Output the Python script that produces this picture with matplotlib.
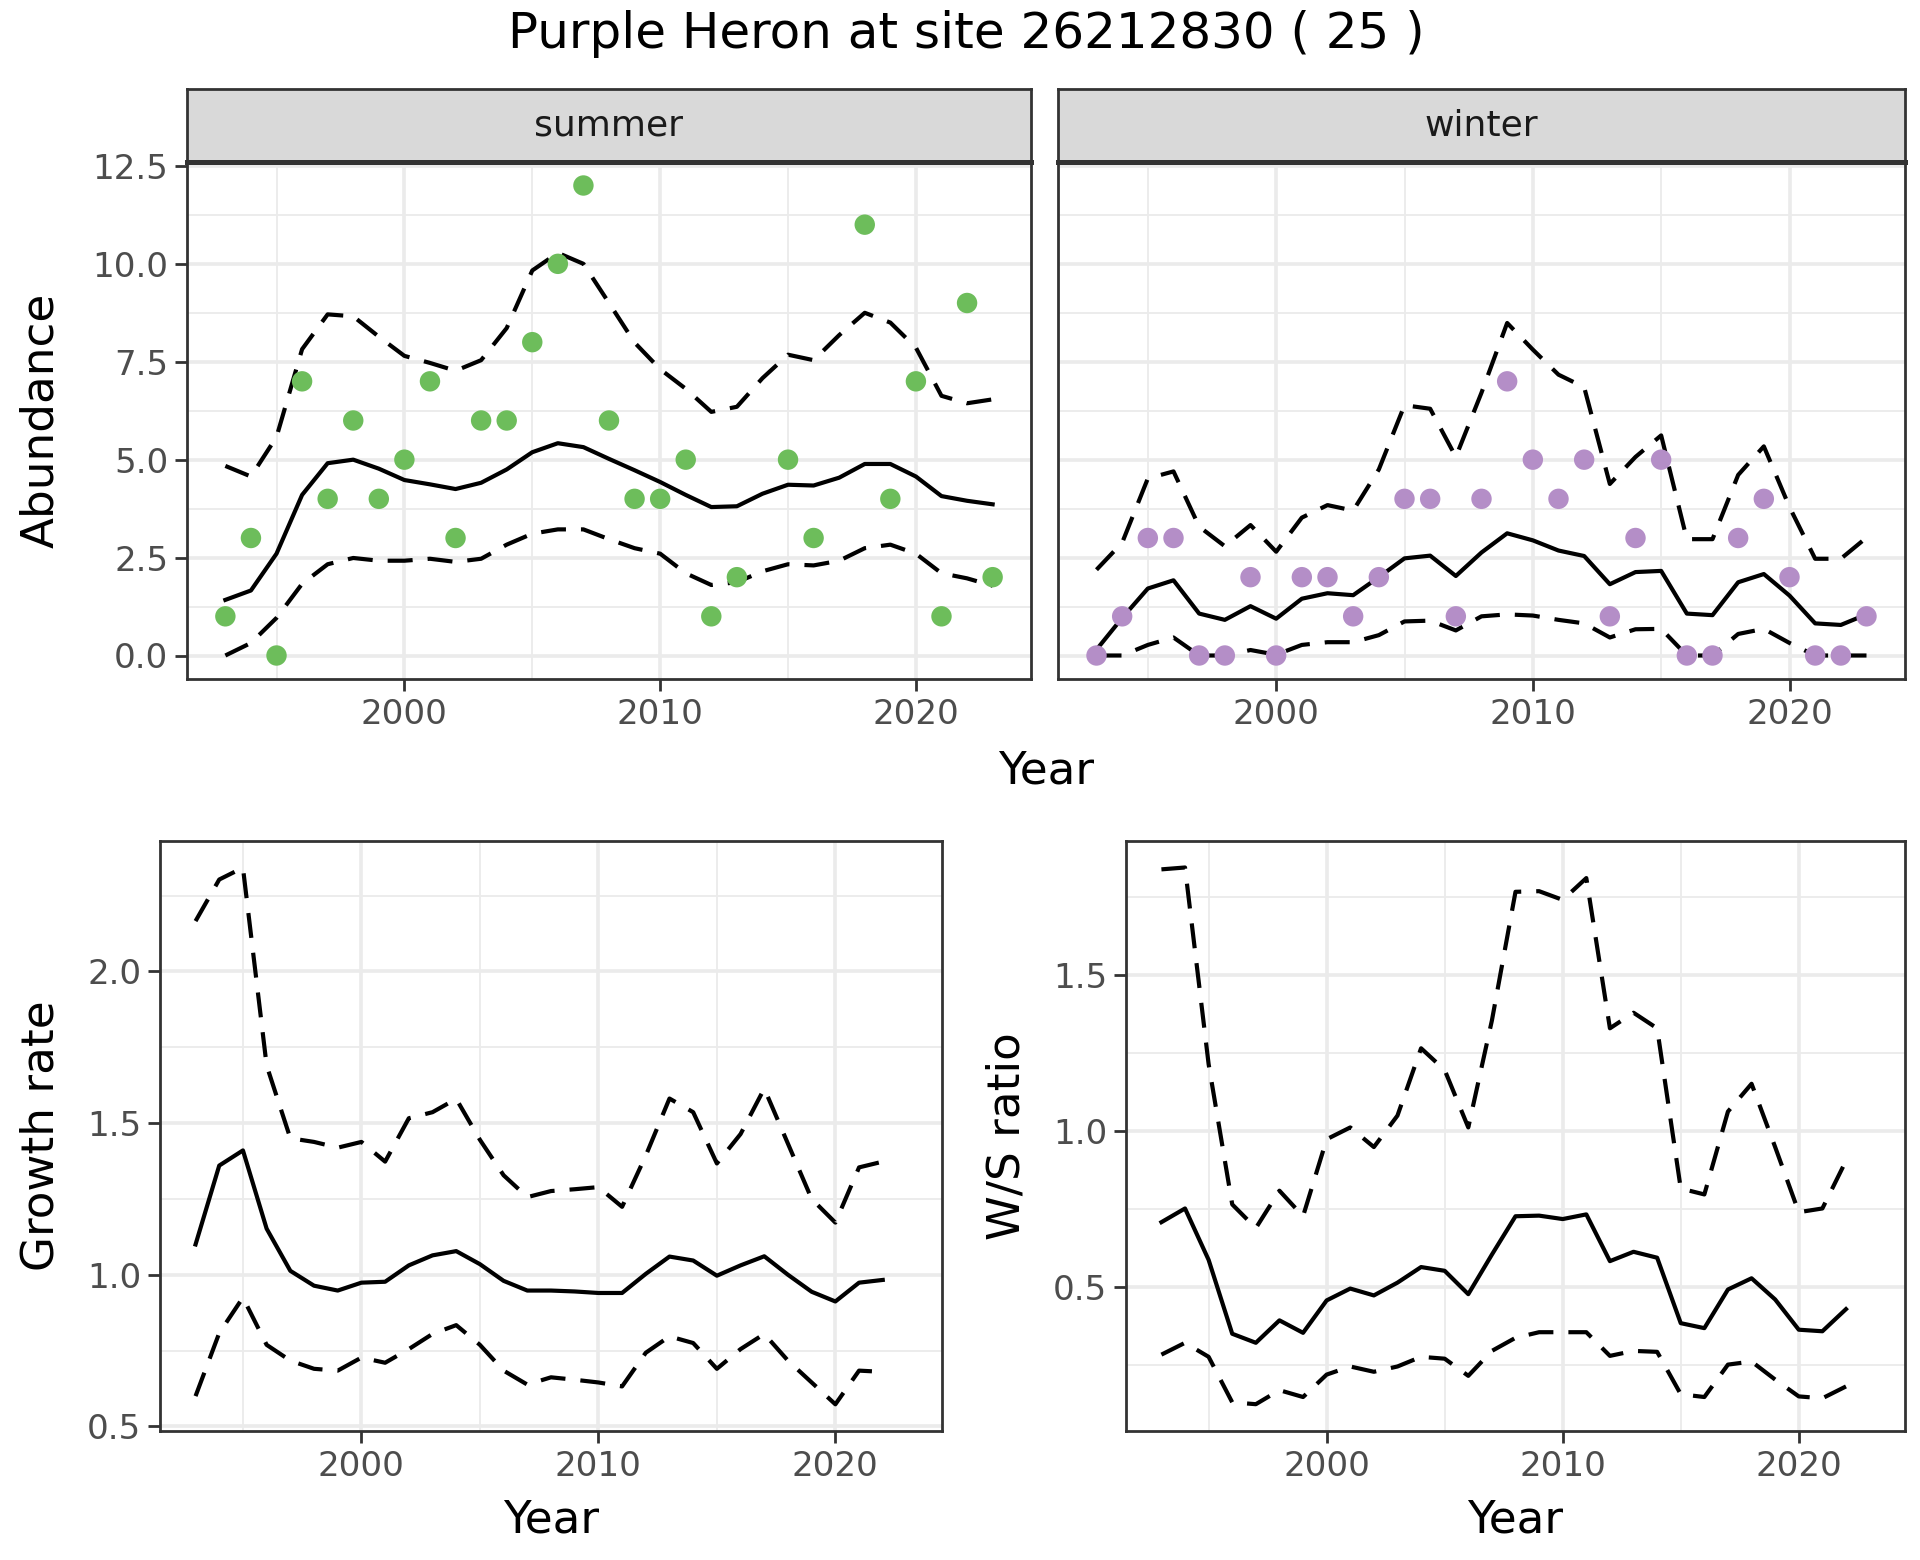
import numpy as np
import matplotlib
matplotlib.use("Agg")
import matplotlib.pyplot as plt
from matplotlib.ticker import FixedLocator

# ---- data ----
years = list(range(1993, 2024))

summer_counts = [1, 3, 0, 7, 4, 6, 4, 5, 7, 3, 6, 6, 8, 10, 12, 6, 4, 4, 5, 1, 2,
                 None, 5, 3, None, 11, 4, 7, 1, 9, 2]
summer_mean = [1.42, 1.66, 2.6, 4.1, 4.91, 5.0, 4.77, 4.48, 4.37, 4.25, 4.41, 4.75,
               5.19, 5.42, 5.32, 5.02, 4.73, 4.43, 4.1, 3.79, 3.81, 4.13, 4.36, 4.34,
               4.54, 4.89, 4.89, 4.57, 4.07, 3.95, 3.86]
summer_upper = [4.84, 4.57, 5.58, 7.82, 8.71, 8.66, 8.14, 7.65, 7.47, 7.27, 7.54, 8.36,
                9.83, 10.28, 10.0, 9.0, 7.99, 7.31, 6.81, 6.22, 6.35, 7.08, 7.68, 7.54,
                8.18, 8.75, 8.5, 7.86, 6.63, 6.44, 6.54]
summer_lower = [0.0, 0.32, 0.96, 1.83, 2.33, 2.49, 2.42, 2.42, 2.47, 2.39, 2.47, 2.83,
                3.11, 3.22, 3.22, 2.97, 2.74, 2.6, 2.1, 1.8, 1.87, 2.15, 2.33, 2.3,
                2.42, 2.74, 2.83, 2.6, 2.1, 1.97, 1.78]

winter_counts = [0, 1, 3, 3, 0, 0, 2, 0, 2, 2, 1, 2, 4, 4, 1, 4, 7, 5, 4, 5, 1, 3, 5,
                 0, 0, 3, 4, 2, 0, 0, 1]
winter_mean = [0.15, 0.96, 1.71, 1.92, 1.07, 0.91, 1.26, 0.94, 1.45, 1.59, 1.54, 2.0,
               2.48, 2.55, 2.03, 2.63, 3.12, 2.94, 2.68, 2.54, 1.82, 2.13, 2.16, 1.07,
               1.03, 1.87, 2.08, 1.53, 0.82, 0.78, 1.05]
winter_upper = [2.19, 2.88, 4.52, 4.7, 3.29, 2.79, 3.33, 2.65, 3.52, 3.84, 3.7, 4.75,
                6.39, 6.3, 5.07, 6.71, 8.49, 7.81, 7.17, 6.85, 4.38, 5.07, 5.62, 2.97,
                2.97, 4.61, 5.34, 3.79, 2.47, 2.47, 3.01]
winter_lower = [0.0, 0.0, 0.27, 0.46, 0.0, 0.0, 0.14, 0.02, 0.27, 0.34, 0.34, 0.52,
                0.87, 0.89, 0.64, 1.0, 1.05, 1.02, 0.91, 0.82, 0.46, 0.67, 0.68, 0.0,
                0.0, 0.55, 0.68, 0.32, 0.0, 0.0, 0.0]

ratio_years = list(range(1993, 2023))
growth_mean = [1.10, 1.36, 1.41, 1.152, 1.013, 0.964, 0.948, 0.974, 0.977, 1.031,
               1.064, 1.078, 1.035, 0.98, 0.948, 0.948, 0.945, 0.94, 0.94, 1.003,
               1.06, 1.047, 0.997, 1.031, 1.061, 1.0, 0.944, 0.912, 0.974, 0.983]
growth_upper = [2.166, 2.303, 2.342, 1.69, 1.45, 1.438, 1.419, 1.438, 1.373, 1.516,
                1.536, 1.58, 1.445, 1.328, 1.256, 1.276, 1.282, 1.289, 1.224, 1.393,
                1.581, 1.536, 1.367, 1.464, 1.614, 1.432, 1.25, 1.172, 1.354, 1.373]
growth_lower = [0.6, 0.808, 0.925, 0.769, 0.717, 0.69, 0.684, 0.727, 0.71, 0.755,
                0.805, 0.834, 0.769, 0.684, 0.638, 0.662, 0.654, 0.645, 0.632, 0.743,
                0.797, 0.775, 0.69, 0.755, 0.805, 0.717, 0.645, 0.573, 0.684, 0.68]

ws_mean = [0.707, 0.751, 0.586, 0.349, 0.32, 0.392, 0.352, 0.456, 0.494, 0.472,
           0.513, 0.563, 0.551, 0.476, 0.603, 0.726, 0.728, 0.717, 0.732, 0.582,
           0.612, 0.593, 0.383, 0.367, 0.491, 0.527, 0.459, 0.362, 0.357, 0.428]
ws_upper = [1.839, 1.845, 1.214, 0.764, 0.688, 0.808, 0.726, 0.973, 1.011, 0.948,
            1.049, 1.265, 1.195, 1.011, 1.354, 1.767, 1.769, 1.741, 1.811, 1.329,
            1.379, 1.329, 0.815, 0.796, 1.062, 1.151, 0.948, 0.739, 0.751, 0.904]
ws_lower = [0.282, 0.32, 0.275, 0.129, 0.123, 0.168, 0.146, 0.218, 0.244, 0.227,
            0.244, 0.275, 0.269, 0.214, 0.294, 0.336, 0.354, 0.354, 0.354, 0.278,
            0.294, 0.291, 0.155, 0.146, 0.25, 0.26, 0.202, 0.148, 0.142, 0.18]

title = "Purple Heron at site 26212830 ( 25 )"

# ---- style (ggplot theme_bw look) ----
W, H = 1920, 1560
GRID = "#EBEBEB"
BORDER = "#333333"
TICKTXT = "#4D4D4D"
GREEN = "#6DBD5B"
PURPLE = "#B48EC7"
LW = 1.5
DASH = (0, (6.0, 3.6))
TICK_FS = 12.3
AXIS_FS = 16.3
STRIP_FS = 13

plt.rcParams["font.family"] = ["DejaVu Sans"]
fig = plt.figure(figsize=(W / 200, H / 200), dpi=200)


def px_axes(x0, y0, x1, y1):
    # pixel box (top-left origin) -> figure axes
    return fig.add_axes([x0 / W, 1 - y1 / H, (x1 - x0) / W, (y1 - y0) / H])


def style_axes(ax, ymajor, yminor, ylim, yfmt="{:.1f}", show_y=True):
    ax.set_xlim(1991.5, 2024.5)
    ax.set_ylim(*ylim)
    ax.xaxis.set_major_locator(FixedLocator([2000, 2010, 2020]))
    ax.xaxis.set_minor_locator(FixedLocator([1995, 2005, 2015]))
    ax.yaxis.set_major_locator(FixedLocator(ymajor))
    ax.yaxis.set_minor_locator(FixedLocator(yminor))
    ax.grid(which="major", color=GRID, lw=1.3, zorder=0)
    ax.grid(which="minor", color=GRID, lw=0.65, zorder=0)
    ax.set_axisbelow(True)
    for sp in ax.spines.values():
        sp.set_color(BORDER)
        sp.set_linewidth(1.0)
    ax.tick_params(which="major", length=4.2, width=1.0, color=BORDER,
                   labelcolor=TICKTXT, labelsize=TICK_FS, pad=2.5)
    ax.tick_params(which="minor", length=0)
    ax.set_yticks(ymajor)
    ax.set_yticklabels([yfmt.format(v) for v in ymajor] if show_y else [])
    if not show_y:
        ax.tick_params(axis="y", which="major", length=0)


def draw_band(ax, xs, mean, upper, lower):
    ax.plot(xs, upper, color="black", lw=LW, ls=DASH, zorder=3)
    ax.plot(xs, lower, color="black", lw=LW, ls=DASH, zorder=3)
    ax.plot(xs, mean, color="black", lw=LW, zorder=3)


def to_arr(vals):
    return np.array([np.nan if v is None else v for v in vals], dtype=float)


abund_ticks = [0, 2.5, 5.0, 7.5, 10.0, 12.5]
abund_minor = [1.25, 3.75, 6.25, 8.75, 11.25]
abund_lim = (-0.6, 12.6)

# ---- top row: abundance facets ----
panels = [
    ("summer", 187, 1031, summer_counts, GREEN, summer_mean, summer_upper, summer_lower, True),
    ("winter", 1058, 1905, winter_counts, PURPLE, winter_mean, winter_upper, winter_lower, False),
]
for name, x0, x1, counts, col, mean, up, lo, show_y in panels:
    ax = px_axes(x0, 162, x1, 679)
    style_axes(ax, abund_ticks, abund_minor, abund_lim, show_y=show_y)
    draw_band(ax, years, mean, up, lo)
    ax.scatter(years, to_arr(counts), s=54, color=col, edgecolor="none", zorder=4)
    strip = px_axes(x0, 89, x1, 162)
    strip.set_xticks([])
    strip.set_yticks([])
    strip.set_facecolor("#D9D9D9")
    for sp in strip.spines.values():
        sp.set_color(BORDER)
        sp.set_linewidth(1.0)
    strip.spines["bottom"].set_linewidth(1.8)
    strip.text(0.5, 0.5, name, ha="center", va="center", fontsize=STRIP_FS,
               color="#1A1A1A", transform=strip.transAxes)

fig.text(41 / W, 1 - 420 / H, "Abundance", rotation=90, ha="center", va="center", fontsize=AXIS_FS)
fig.text(1046 / W, 1 - 771 / H, "Year", ha="center", va="center", fontsize=AXIS_FS)

# ---- bottom left: growth rate ----
ax_g = px_axes(160, 841, 942, 1431)
style_axes(ax_g, [0.5, 1.0, 1.5, 2.0], [0.75, 1.25, 1.75, 2.25], (0.485, 2.43))
draw_band(ax_g, ratio_years, growth_mean, growth_upper, growth_lower)
fig.text(41 / W, 1 - 1136 / H, "Growth rate", rotation=90, ha="center", va="center", fontsize=AXIS_FS)
fig.text(551 / W, 1 - 1520 / H, "Year", ha="center", va="center", fontsize=AXIS_FS)

# ---- bottom right: W/S ratio ----
ax_r = px_axes(1126, 841, 1905, 1431)
style_axes(ax_r, [0.5, 1.0, 1.5], [0.25, 0.75, 1.25, 1.75], (0.037, 1.93))
draw_band(ax_r, ratio_years, ws_mean, ws_upper, ws_lower)
fig.text(1007 / W, 1 - 1136 / H, "W/S ratio", rotation=90, ha="center", va="center", fontsize=AXIS_FS)
fig.text(1515 / W, 1 - 1520 / H, "Year", ha="center", va="center", fontsize=AXIS_FS)

fig.text(966 / W, 1 - 34 / H, title, ha="center", va="center", fontsize=18)

fig.savefig("out.png", dpi=200, facecolor="white")
